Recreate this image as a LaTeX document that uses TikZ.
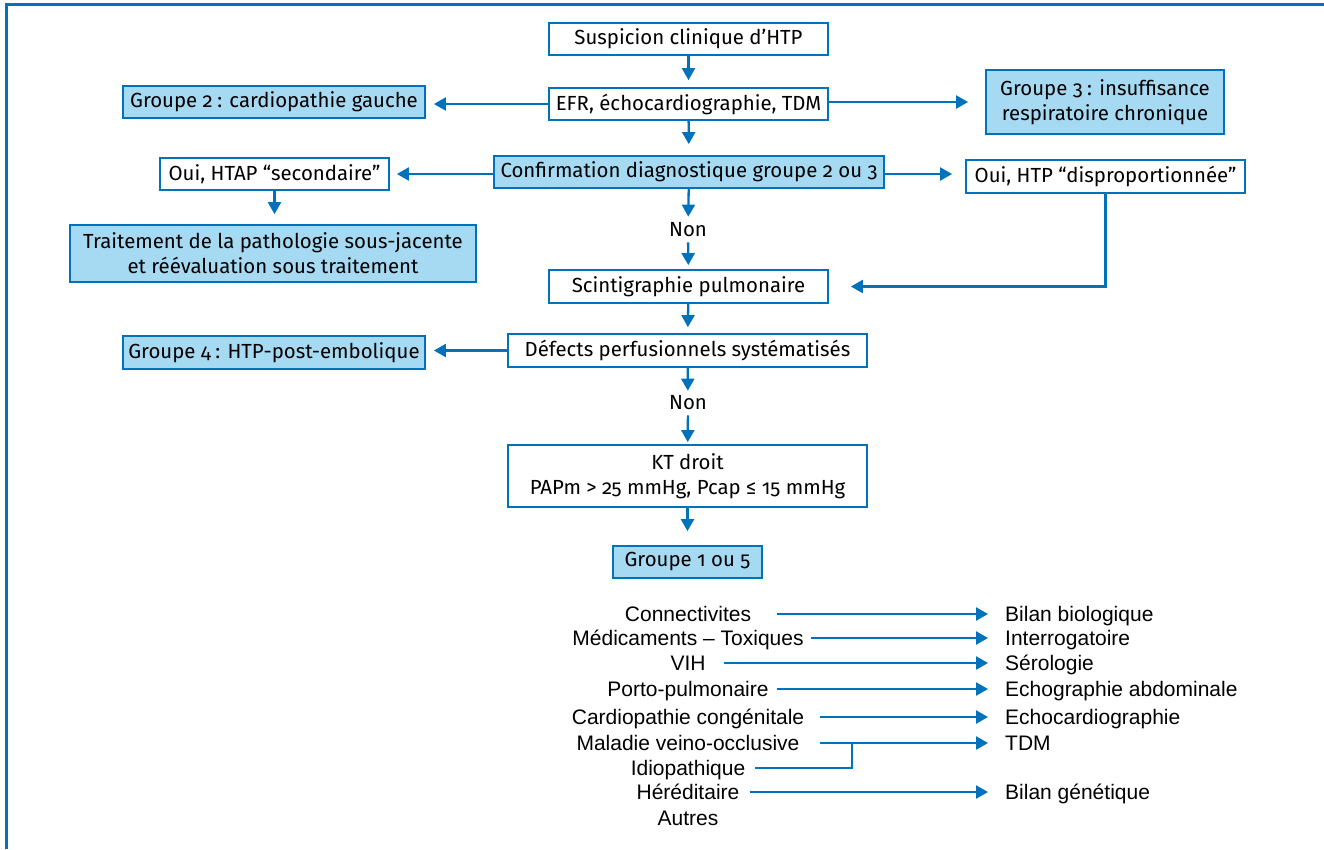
\documentclass[tikz,border=0pt]{standalone}
\usepackage{fontspec}
\setmainfont{Fira Sans}[Numbers=OldStyle]
\newfontfamily\listfont{Liberation Sans}
\usetikzlibrary{arrows.meta}
\definecolor{cblue}{RGB}{0,114,188}
\definecolor{clight}{RGB}{166,218,243}
\newcommand{\colsp}{\hspace{0.22em}}
\begin{document}
\begin{tikzpicture}[x=1pt,y=-1pt,
  box/.style={draw=cblue,line width=1.8pt,inner sep=0pt,align=center,font=\fontsize{20.4}{25}\selectfont,text=black},
  fbox/.style={box,fill=clight},
  lbl/.style={inner sep=0pt,font=\fontsize{20.4}{25}\selectfont},
  arr/.style={draw=cblue,line width=2.3pt,-{Triangle[length=12pt,width=13pt]}},
  lnk/.style={draw=cblue,line width=2.3pt},
  item/.style={inner sep=0pt,font=\listfont\fontsize{21}{25}\selectfont},
  frame/.style={draw=cblue,line width=3pt},
]
\useasboundingbox (0,0) rectangle (1324,849);
\draw[frame] (6.5,849) -- (6.5,4.5) -- (1324,4.5);

% boxes
\node[box,minimum width=279pt,minimum height=32pt] (susp) at (688.5,39) {Suspicion clinique d’HTP};
\node[box,minimum width=279pt,minimum height=32pt] (efr) at (688.5,104) {EFR, échocardiographie, TDM};
\node[fbox,minimum width=302pt,minimum height=32pt] (g2) at (274,102) {Groupe 2\colsp: cardiopathie gauche};
\node[fbox,minimum width=238pt,minimum height=64pt] (g3) at (1105,102) {Groupe 3\colsp: insuffisance\\respiratoire chronique};
\node[fbox,minimum width=390pt,minimum height=32pt] (conf) at (689,172) {Confirmation diagnostique groupe 2 ou 3};
\node[box,minimum width=229pt,minimum height=32pt] (htap) at (274.5,174) {Oui, HTAP “secondaire”};
\node[fbox,minimum width=406pt,minimum height=57pt] (trait) at (273,253.5) {Traitement de la pathologie sous-jacente\\et réévaluation sous traitement};
\node[box,minimum width=279pt,minimum height=33pt] (disp) at (1105.5,176.5) {Oui, HTP “disproportionnée”};
\node[lbl] (non1) at (688,230) {Non};
\node[box,minimum width=279pt,minimum height=33pt] (scint) at (688.5,286.5) {Scintigraphie pulmonaire};
\node[box,minimum width=359pt,minimum height=33pt] (def) at (687.5,350.5) {Défects perfusionnels systématisés};
\node[fbox,minimum width=302pt,minimum height=33pt] (g4) at (274,352.5) {Groupe 4\colsp: HTP-post-embolique};
\node[lbl] (non2) at (688,403) {Non};
\node[box,minimum width=359pt,minimum height=62pt] (kt) at (687.5,476) {KT droit\\PAPm > 25 mmHg, Pcap ≤ 15 mmHg};
\node[fbox,minimum width=149pt,minimum height=32pt] (g15) at (687.5,562) {Groupe 1 ou 5};

% arrows
\draw[arr,shorten >=7pt] (susp) -- (efr);
\draw[arr,shorten >=8pt] (efr.west) -- (efr.west -| g2.east);
\draw[arr,shorten >=17pt] ([yshift=2pt]efr.east) -- ([yshift=2pt]efr.east -| g3.west);
\draw[arr,shorten >=11pt] (efr) -- (conf);
\draw[arr,shorten >=7pt] ([yshift=-2pt]conf.west) -- ([yshift=-2pt]conf.west -| htap.east);
\draw[arr,shorten >=13pt] ([yshift=-2pt]conf.east) -- ([yshift=-2pt]conf.east -| disp.west);
\draw[arr,shorten >=10pt] (htap.south) -- (htap.south |- trait.north);
\draw[arr,shorten >=6pt] (conf) -- (non1);
\draw[arr,shorten <=5pt,shorten >=4pt] (non1) -- (scint);
\draw[arr,shorten >=22pt] (disp.south) |- (scint.east);
\draw[arr,shorten >=6pt] (scint) -- (def);
\draw[arr,shorten >=8pt] (def.west) -- (def.west -| g4.east);
\draw[arr,shorten >=5pt] (def) -- (non2);
\draw[arr,shorten <=5pt,shorten >=2pt] (non2) -- (kt);
\draw[arr,shorten >=14pt] (kt) -- (g15);

% bottom list
\node[item,anchor=base] (lcon) at (688,621.5) {Connectivites};
\node[item,anchor=base] (lmed) at (688,645.5) {Médicaments – Toxiques};
\node[item,anchor=base] (lvih) at (688,670.5) {VIH};
\node[item,anchor=base] (lpor) at (688,696.5) {Porto-pulmonaire};
\node[item,anchor=base] (lcar) at (688,724.5) {Cardiopathie congénitale};
\node[item,anchor=base] (lmal) at (688,750.5) {Maladie veino-occlusive};
\node[item,anchor=base] (lidi) at (688,775.5) {Idiopathique};
\node[item,anchor=base] (lher) at (688,799.5) {Héréditaire};
\node[item,anchor=base] (laut) at (688,825.5) {Autres};

\node[item,anchor=base west] (rbio) at (1005,621.5) {Bilan biologique};
\node[item,anchor=base west] (rint) at (1005,645.5) {Interrogatoire};
\node[item,anchor=base west] (rser) at (1005,670.5) {Sérologie};
\node[item,anchor=base west] (rech) at (1005,696.5) {Echographie abdominale};
\node[item,anchor=base west] (recc) at (1005,724.5) {Echocardiographie};
\node[item,anchor=base west] (rtdm) at (1005,750.5) {TDM};
\node[item,anchor=base west] (rgen) at (1005,799.5) {Bilan génétique};

\draw[arr,shorten >=17pt] ([xshift=26pt,yshift=7.5pt]lcon.base east) -- ([yshift=7.5pt]rbio.base west);
\draw[arr,shorten >=17pt] ([xshift=7pt,yshift=7.5pt]lmed.base east) -- ([yshift=7.5pt]rint.base west);
\draw[arr,shorten >=17pt] ([xshift=18pt,yshift=7.5pt]lvih.base east) -- ([yshift=7.5pt]rser.base west);
\draw[arr,shorten >=17pt] ([xshift=8pt,yshift=7.5pt]lpor.base east) -- ([yshift=7.5pt]rech.base west);
\draw[arr,shorten >=17pt] ([xshift=16pt,yshift=7.5pt]lcar.base east) -- ([yshift=7.5pt]recc.base west);
\draw[arr,shorten >=17pt] ([xshift=20pt,yshift=7.5pt]lmal.base east) -- ([yshift=7.5pt]rtdm.base west);
\coordinate (join) at (852,743);
\draw[lnk] ([xshift=10pt,yshift=7.5pt]lidi.base east) -| (join);
\draw[arr,shorten >=17pt] ([xshift=10pt,yshift=7.5pt]lher.base east) -- ([yshift=7.5pt]rgen.base west);
\end{tikzpicture}
\end{document}
